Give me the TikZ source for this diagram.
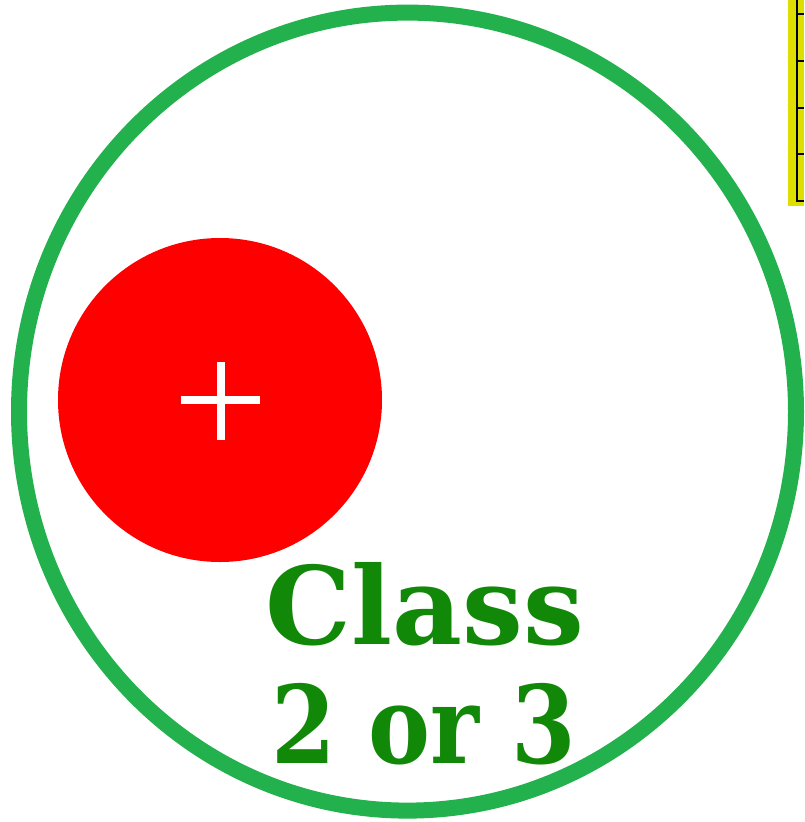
\documentclass[tikz,border=0pt]{standalone}
\usepackage{fontspec}
\newfontfamily\slabfont{DejaVu Serif}
\definecolor{ringgreen}{RGB}{34,177,76}
\definecolor{textgreen}{RGB}{17,136,8}
\definecolor{tabyellow}{RGB}{222,222,0}
\tikzset{classtext/.style={anchor=base, inner sep=0pt, text=textgreen, font=\slabfont\bfseries\fontsize{108}{125}\selectfont}}
\begin{document}
\begin{tikzpicture}[x=1pt,y=1pt,yscale=-1,xscale=1]
		\useasboundingbox (0,0) rectangle (804,822);
		
		%Shape: Table corner
		\fill [tabyellow] (788,0) rectangle (804,206);
		\draw [line width=2.5pt] (797,0) -- (797,201) -- (804,201);
		\foreach \y in {14,61,108,154} {
			\draw [line width=2pt] (797,\y) -- (804,\y);
		}
		%Shape: Ellipse (ring)
		\draw [color=ringgreen, line width=16pt] (407.5,411.6) ellipse [x radius=388.5, y radius=399];
		%Shape: Circle (charge)
		\fill [red] (220,400) circle (162);
		%Shape: Plus
		\draw [white, line width=8pt] (181,400) -- (260,400) (220.5,362) -- (220.5,440);
		
		% Text Node
		\node (class) [classtext] at (424.5,644) {Class};
		% Text Node
		\node (grade) [classtext, xscale=0.86] at (423.5,763) {2 or 3};
	\end{tikzpicture}
\end{document}
